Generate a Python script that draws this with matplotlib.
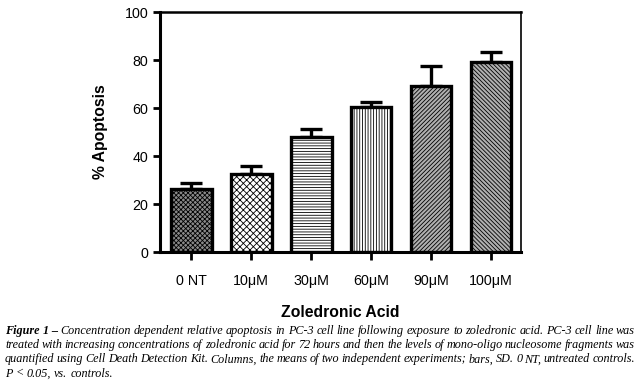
import matplotlib
matplotlib.use("Agg")
import matplotlib.pyplot as plt
import numpy as np

# data
doses = ["0 NT", "10μM", "30μM", "60μM", "90μM", "100μM"]
apoptosis = [26.2, 32.5, 47.8, 60.5, 69.2, 79.0]
sd = [2.5, 3.5, 3.6, 2.1, 8.3, 4.2]

caption_lines = [
    "Figure 1 \u2013 Concentration dependent relative apoptosis in PC-3 cell line following exposure to zoledronic acid. PC-3 cell line was",
    "treated with increasing concentrations of zoledronic acid for 72 hours and then the levels of mono-oligo nucleosome fragments was",
    "quantified using Cell Death Detection Kit. Columns, the means of two independent experiments; bars, SD. 0 NT, untreated controls.",
    "P < 0.05, vs. controls.",
]

plt.rcParams["font.family"] = ["Liberation Sans", "DejaVu Sans"]
plt.rcParams["hatch.linewidth"] = 0.6

fig = plt.figure(figsize=(6.4, 3.91), dpi=100)
ax = fig.add_axes([160/640, 1 - 252/391, 361/640, 240/391])

x = np.arange(len(doses))
faces = ["#8a8a8a", "white", "white", "white", "#b0b0b0", "#b0b0b0"]
hatches = ["xxxxxxx", "xxxxx", "------", "||||||", "////////", "\\\\\\\\\\\\\\\\"]
bars = ax.bar(x, apoptosis, width=0.68, color=faces, edgecolor="black",
              linewidth=2.4, zorder=2)
for b, h in zip(bars, hatches):
    b.set_hatch(h)

ax.errorbar(x, apoptosis, yerr=[np.zeros(len(sd)), sd], fmt="none",
            ecolor="black", elinewidth=2.4, capsize=8, capthick=2.4, zorder=1)

ax.set_xlim(-0.52, 5.5)
ax.set_ylim(0, 100)
ax.set_yticks([0, 20, 40, 60, 80, 100])
ax.set_xticks(x)
ax.set_xticklabels(doses, fontsize=10.3)
ax.tick_params(axis="y", labelsize=10.3, width=2, length=5, direction="out")
ax.tick_params(axis="x", width=2, length=6, direction="out", pad=10)
for s in ["left", "bottom"]:
    ax.spines[s].set_linewidth(2.2)
ax.spines["top"].set_linewidth(1.8)
ax.spines["right"].set_linewidth(1.2)

ax.set_ylabel("% Apoptosis", fontsize=11.3, fontweight="bold", labelpad=12)
ax.set_xlabel("Zoledronic Acid", fontsize=11.3, fontweight="bold", labelpad=12)

# justified caption below the chart
fig.canvas.draw()
renderer = fig.canvas.get_renderer()
left, right = 5, 635
fs = 8.75
for i, line in enumerate(caption_lines):
    yy = 1 - (331 + i * 14.2) / 391
    words = line.split(" ")
    texts = []
    for j, w in enumerate(words):
        bold = i == 0 and j < 3
        t = fig.text(0, yy, w, fontsize=fs, family="Liberation Serif",
                     style="italic", fontweight="bold" if bold else "normal",
                     va="center")
        texts.append(t)
    widths = [t.get_window_extent(renderer).width for t in texts]
    if i < len(caption_lines) - 1:
        gap = (right - left - sum(widths)) / (len(words) - 1)
    else:
        gap = fs * 0.25 * 100 / 72
    xp = left
    for t, w in zip(texts, widths):
        t.set_x(xp / 640)
        xp += w + gap

fig.savefig("out.png", dpi=100)
